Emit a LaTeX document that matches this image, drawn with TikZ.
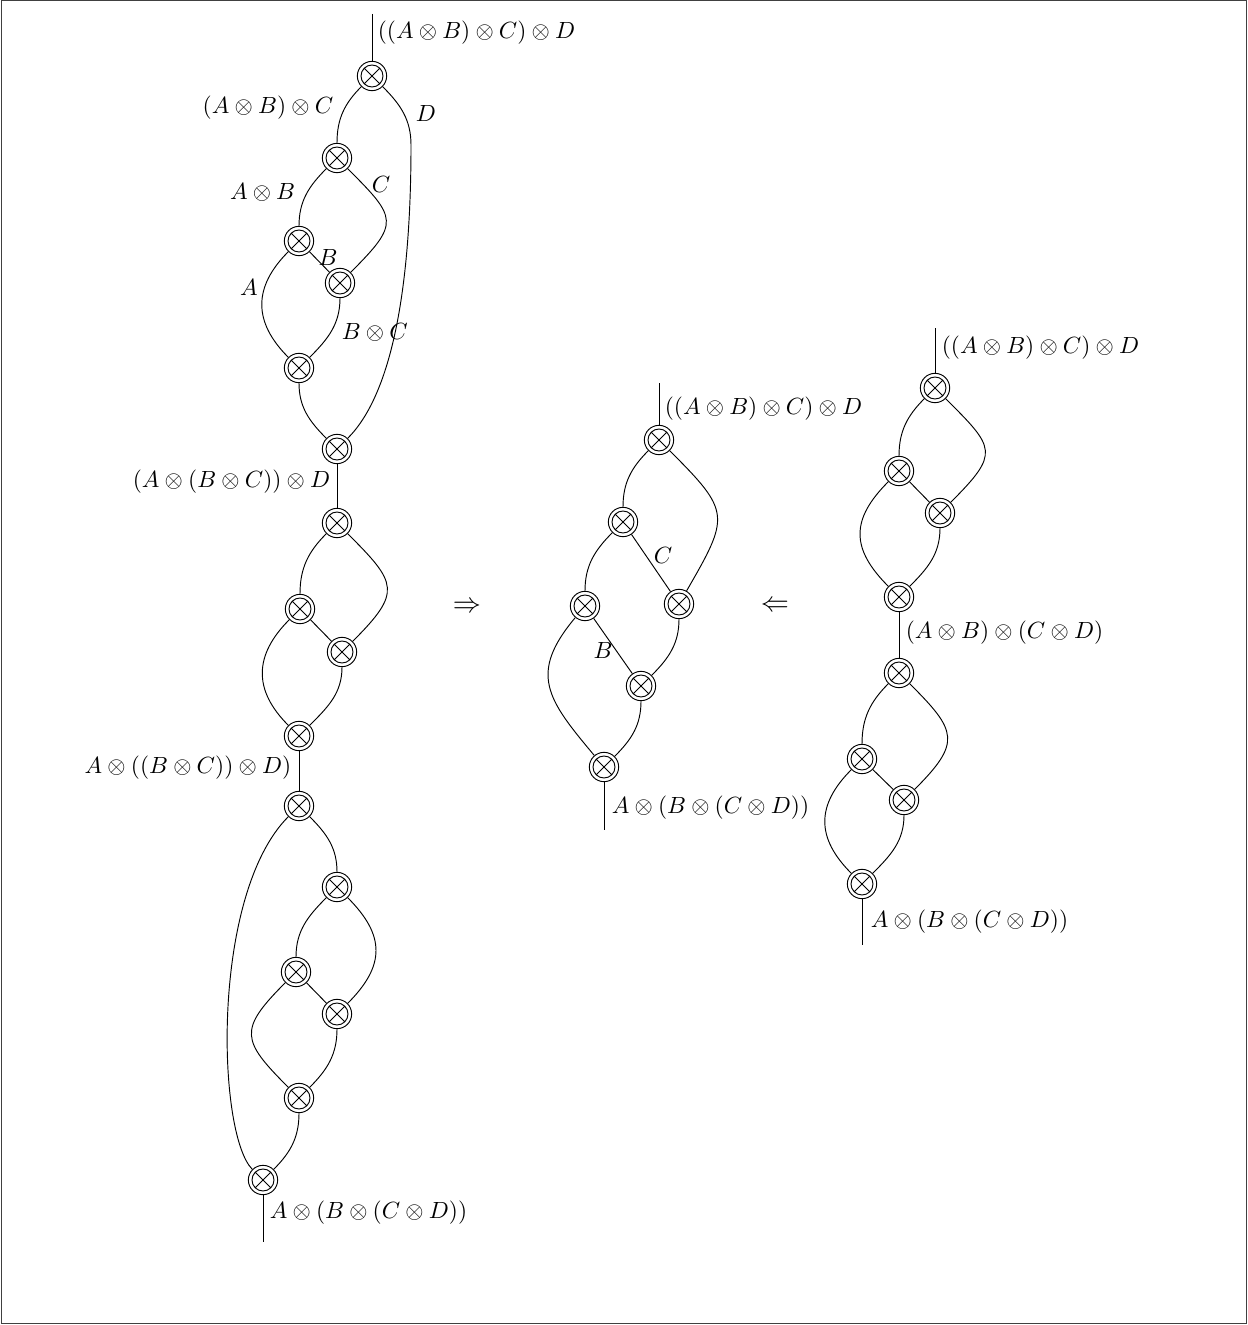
\documentclass[tikz,border=0pt]{standalone}
\begin{document}
\begin{tikzpicture}[x=0.015cm,y=0.015cm,
  tens/.style={circle,draw,minimum size=0.44cm,inner sep=0pt,
    path picture={\draw[shift={(path picture bounding box.center)}]
      (0,0) circle (0.165cm) (45:0.165cm) -- (225:0.165cm) (135:0.165cm) -- (-45:0.165cm);}},
  lbl/.style={inner sep=1pt},
  rule/.style={font=\large}]
\useasboundingbox (0,0) rectangle (1247,-1325);
\draw[black!75] (1,-0.7) rectangle (1246,-1323.3);

% ---------- left column: pentagon path ----------
\coordinate (t1) at (372,-14);
\node[tens] (n1) at (372,-76) {};
\node[tens] (n2) at (337,-158) {};
\node[tens] (n3) at (299,-241) {};
\node[tens] (n4) at (340,-283) {};
\node[tens] (n5) at (299,-368) {};
\node[tens] (n6) at (337,-449) {};
\node[tens] (n7) at (337,-523) {};
\node[tens] (n8) at (300,-609) {};
\node[tens] (n9) at (342,-652) {};
\node[tens] (n10) at (299,-736) {};
\node[tens] (n11) at (299,-806) {};
\node[tens] (n12) at (337,-887) {};
\node[tens] (n13) at (296,-972) {};
\node[tens] (n14) at (337,-1014) {};
\node[tens] (n15) at (299,-1098) {};
\node[tens] (n16) at (263,-1180) {};
\coordinate (b1) at (263,-1242);

\draw (t1) -- (n1);
\draw (n1) to[out=-135,in=90] (n2);
\draw (n1) to[out=-45,in=90] (411,-145) to[out=-90,in=45,out distance=2.25cm,in distance=0.9cm] (n6);
\draw (n2) to[out=-135,in=90] (n3);
\draw (n2) to[out=-45,in=45,distance=1.05cm] (n4);
\draw (n3) -- (n4);
\draw (n3) to[out=-135,in=135,distance=0.75cm] (n5);
\draw (n4) to[out=-90,in=45] (n5);
\draw (n5) to[out=-90,in=135] (n6);
\draw (n6) -- (n7);

\draw (n7) to[out=-135,in=90] (n8);
\draw (n7) to[out=-45,in=45,distance=1.05cm] (n9);
\draw (n8) -- (n9);
\draw (n8) to[out=-135,in=135,distance=0.75cm] (n10);
\draw (n9) to[out=-90,in=45] (n10);
\draw (n10) -- (n11);

\draw (n11) to[out=-45,in=90] (n12);
\draw (n11) to[out=-135,in=135,out distance=1.65cm,in distance=0.75cm] (n16);
\draw (n12) to[out=-135,in=90] (n13);
\draw (n12) to[out=-45,in=45,distance=0.8cm] (n14);
\draw (n13) -- (n14);
\draw (n13) to[out=-135,in=135,distance=1cm] (n15);
\draw (n14) to[out=-90,in=45] (n15);
\draw (n15) to[out=-90,in=45] (n16);
\draw (n16) -- (b1);

\node[lbl,anchor=west] (l1) at (375,-33) {$((A\otimes B)\otimes C)\otimes D$};
\node[lbl,anchor=east] (l2) at (336,-108) {$(A\otimes B)\otimes C$};
\node[lbl,anchor=west] (l3) at (413,-113) {$D$};
\node[lbl,anchor=east] (l4) at (298,-192) {$A\otimes B$};
\node[lbl] (l5) at (381,-184) {$C$};
\node[lbl] (l6) at (328,-257) {$B$};
\node[lbl] (l7) at (249,-287) {$A$};
\node[lbl,anchor=west] (l8) at (339,-332) {$B\otimes C$};
\node[lbl,anchor=east] (l9) at (333,-482) {$(A\otimes(B\otimes C))\otimes D$};
\node[lbl,anchor=east] (l10) at (294,-768) {$A\otimes((B\otimes C))\otimes D)$};
\node[lbl,anchor=west] (l11) at (267,-1213) {$A\otimes(B\otimes(C\otimes D))$};

% ---------- arrows between the columns ----------
\node[rule] (imp) at (467,-607) {$\Rightarrow$};
\node[rule] (rimp) at (775,-606) {$\Leftarrow$};

% ---------- middle column ----------
\coordinate (t2) at (659,-383);
\node[tens] (m1) at (659,-440) {};
\node[tens] (m2) at (623,-522) {};
\node[tens] (m3) at (585,-606) {};
\node[tens] (m4) at (679,-604) {};
\node[tens] (m5) at (641,-686) {};
\node[tens] (m6) at (604,-767) {};
\coordinate (b2) at (604,-830);

\draw (t2) -- (m1);
\draw (m1) to[out=-135,in=90] (m2);
\draw (m1) to[out=-45,in=60,distance=1.3cm] (m4);
\draw (m2) to[out=-135,in=90] (m3);
\draw (m2) -- (m4);
\draw (m3) -- (m5);
\draw (m3) to[out=-130,in=130,distance=1.1cm] (m6);
\draw (m4) to[out=-90,in=45] (m5);
\draw (m5) to[out=-90,in=45] (m6);
\draw (m6) -- (b2);

\node[lbl,anchor=west] (k1) at (662,-409) {$((A\otimes B)\otimes C)\otimes D$};
\node[lbl] (k2) at (663,-555) {$C$};
\node[lbl] (k3) at (603,-650) {$B$};
\node[lbl,anchor=west] (k4) at (609,-808) {$A\otimes(B\otimes(C\otimes D))$};

% ---------- right column ----------
\coordinate (t3) at (935,-328);
\node[tens] (r1) at (935,-388) {};
\node[tens] (r2) at (899,-471) {};
\node[tens] (r3) at (940,-513) {};
\node[tens] (r4) at (899,-597) {};
\node[tens] (r5) at (899,-673) {};
\node[tens] (r6) at (862,-759) {};
\node[tens] (r7) at (904,-800) {};
\node[tens] (r8) at (862,-884) {};
\coordinate (b3) at (862,-945);

\draw (t3) -- (r1);
\draw (r1) to[out=-135,in=90] (r2);
\draw (r1) to[out=-45,in=45,distance=1.05cm] (r3);
\draw (r2) -- (r3);
\draw (r2) to[out=-135,in=135,distance=0.8cm] (r4);
\draw (r3) to[out=-90,in=45] (r4);
\draw (r4) -- (r5);
\draw (r5) to[out=-135,in=90] (r6);
\draw (r5) to[out=-45,in=45,distance=1cm] (r7);
\draw (r6) -- (r7);
\draw (r6) to[out=-135,in=135,distance=0.75cm] (r8);
\draw (r7) to[out=-90,in=45] (r8);
\draw (r8) -- (b3);

\node[lbl,anchor=west] (q1) at (939,-348) {$((A\otimes B)\otimes C)\otimes D$};
\node[lbl,anchor=west] (q2) at (903,-633) {$(A\otimes B)\otimes(C\otimes D)$};
\node[lbl,anchor=west] (q3) at (868,-922) {$A\otimes(B\otimes(C\otimes D))$};
\end{tikzpicture}
\end{document}
